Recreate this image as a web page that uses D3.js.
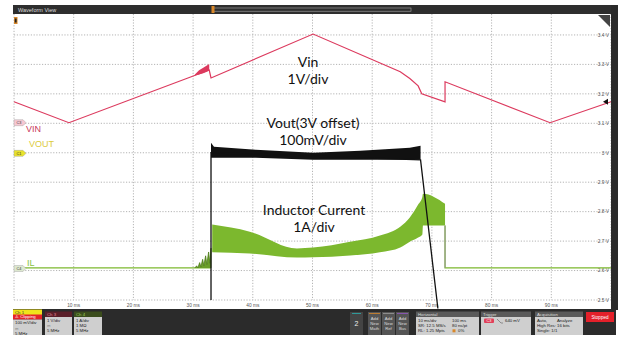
<!DOCTYPE html>
<html>
<head>
<meta charset="utf-8">
<script src="https://cdn.jsdelivr.net/npm/d3@7"></script>
<style>
  html, body { margin: 0; padding: 0; background: #fff; }
  svg { display: block; font-family: 'Liberation Sans', Arial, sans-serif; }
</style>
</head>
<body>
<svg id="scope" width="618" height="339"></svg>
<script>
// time axis (ms) and the screen axis as printed on the right (V, ch1 3V offset)
const timeTicks = [10, 20, 30, 40, 50, 60, 70, 80, 90];
const voltTicks = [3.4, 3.3, 3.2, 3.1, 3.0, 2.9, 2.8, 2.7, 2.6, 2.5];

// Vin trace (screen units)
const vinT = [0, 9.2, 32.7, 33.0, 50.1, 64.7, 66.3, 67.7, 68.3, 72.2, 72.2, 89.8, 100];
const vinV = [3.173, 3.102, 3.281, 3.254, 3.403, 3.275, 3.252, 3.227, 3.200, 3.173, 3.241, 3.102, 3.173];
const vinRipT = [30.3, 31.0, 31.7, 32.3, 32.7];
const vinRipTop = [3.266, 3.280, 3.289, 3.296, 3.301];
const vinRipBot = [3.262, 3.266, 3.270, 3.275, 3.279];

// Vout envelope (screen units)
const voutT = [33.0, 33.5, 40.5, 50.1, 58.0, 66.3, 68.1];
const voutTop = [3.034, 3.020, 3.010, 3.000, 3.007, 3.017, 3.024];
const voutBot = [2.983, 2.983, 2.983, 2.976, 2.976, 2.976, 2.976];
const voutEdgeT = [33.0, 33.0, 68.1, 71.0];
const voutEdgeV = [2.5, 3.0, 2.976, 2.471];

// inductor current (screen units)
const ilBaseT = [0, 33.0];
const ilBaseV = [2.609, 2.609];
const ilRipT = [30.3, 30.6, 30.8, 31.1, 31.3, 31.6, 31.8, 32.1, 32.3, 32.6, 32.8, 33.0, 33.0];
const ilRipV = [2.609, 2.616, 2.609, 2.627, 2.612, 2.638, 2.616, 2.650, 2.620, 2.663, 2.625, 2.676, 2.609];
const ilBandT = [33.2, 39.5, 47.4, 50.1, 56.3, 61.3, 64.7, 66.3, 67.7, 68.4, 68.5, 72.2];
const ilTop = [2.756, 2.732, 2.675, 2.678, 2.698, 2.719, 2.749, 2.780, 2.824, 2.850, 2.861, 2.827];
const ilBot = [2.662, 2.658, 2.644, 2.645, 2.651, 2.662, 2.678, 2.698, 2.712, 2.722, 2.753, 2.753];
const ilTailT = [72.2, 72.2, 100];
const ilTailV = [2.753, 2.609, 2.609];

const svg = d3.select('#scope');
const x = d3.scaleLinear().domain([0, 100]).range([14, 611]);
const y = d3.scaleLinear().domain([2.5, 3.5]).range([300, 5.5]);

const zip = (t, v) => t.map((d, i) => [d, v[i]]);
const band = (t, top, bot) => t.map((d, i) => ({ t: d, hi: top[i], lo: bot[i] }));
const line = d3.line().x((d) => x(d[0])).y((d) => y(d[1]));
const area = d3.area().x((d) => x(d.t)).y0((d) => y(d.lo)).y1((d) => y(d.hi));

// grid
const grid = svg.append('g').attr('class', 'grid');
grid.selectAll('.vg')
    .data(d3.range(0, 101, 10))
    .enter()
    .append('line')
    .attr('x1', (d) => x(d)).attr('x2', (d) => x(d))
    .attr('y1', 14).attr('y2', y(2.5))
    .attr('stroke', '#b4b4b4')
    .attr('stroke-dasharray', '1.2,1.6');
grid.selectAll('.hg')
    .data(voltTicks)
    .enter()
    .append('line')
    .attr('x1', x(0)).attr('x2', x(100))
    .attr('y1', (d) => y(d)).attr('y2', (d) => y(d))
    .attr('stroke', '#b4b4b4')
    .attr('stroke-dasharray', '1.2,1.6');

// right axis labels
svg.append('g')
    .selectAll('text')
    .data(voltTicks)
    .enter()
    .append('text')
    .attr('x', 609)
    .attr('y', (d) => y(d) + 1.8)
    .attr('text-anchor', 'end')
    .attr('font-size', 4.8)
    .attr('fill', '#555')
    .text((d) => `${d === 3 ? '3' : d.toFixed(1)} V`);

// time labels
svg.append('g')
    .selectAll('text')
    .data(timeTicks)
    .enter()
    .append('text')
    .attr('x', (d) => x(d))
    .attr('y', 306.5)
    .attr('text-anchor', 'middle')
    .attr('font-size', 4.8)
    .attr('fill', '#555')
    .text((d) => `${d} ms`);

// traces
const red = '#dc3a5e';
const green = '#7cb82e';

svg.append('path')
    .datum(band(ilBandT, ilTop, ilBot))
    .attr('d', area.curve(d3.curveMonotoneX))
    .attr('fill', green);
area.curve(d3.curveLinear);
svg.append('path')
    .datum(zip(ilBaseT, ilBaseV))
    .attr('d', line)
    .attr('fill', 'none')
    .attr('stroke', green)
    .attr('stroke-width', 1.3);
svg.append('path')
    .datum(zip(ilRipT, ilRipV))
    .attr('d', line)
    .attr('fill', '#6a9e28')
    .attr('stroke', '#4f7d1c')
    .attr('stroke-width', 0.8);
svg.append('path')
    .datum(zip(ilTailT, ilTailV))
    .attr('d', line)
    .attr('fill', 'none')
    .attr('stroke', green)
    .attr('stroke-width', 1.3);
svg.append('line')
    .attr('x1', x(72.2)).attr('x2', x(72.2))
    .attr('y1', y(2.753)).attr('y2', y(2.609))
    .attr('stroke', '#999').attr('stroke-width', 1);

svg.append('path')
    .datum(band(vinRipT, vinRipTop, vinRipBot))
    .attr('d', area)
    .attr('fill', red);
svg.append('path')
    .datum(zip(vinT, vinV))
    .attr('d', line)
    .attr('fill', 'none')
    .attr('stroke', red)
    .attr('stroke-width', 1.2);

svg.append('path')
    .datum(band(voutT, voutTop, voutBot))
    .attr('d', area)
    .attr('fill', '#111');
svg.append('path')
    .datum(zip(voutEdgeT, voutEdgeV))
    .attr('d', line)
    .attr('fill', 'none')
    .attr('stroke', '#111')
    .attr('stroke-width', 1.3);

// annotations
const notes = [
    ['Vin', 308, 67],
    ['1V/div', 308, 84],
    ['Vout(3V offset)', 313, 128],
    ['100mV/div', 313, 145],
    ['Inductor Current', 314, 215],
    ['1A/div', 314, 232],
];
svg.append('g')
    .selectAll('text')
    .data(notes)
    .enter()
    .append('text')
    .attr('x', (d) => d[1])
    .attr('y', (d) => d[2])
    .attr('text-anchor', 'middle')
    .attr('font-family', 'Lato, sans-serif')
    .attr('font-size', 14)
    .attr('fill', '#111')
    .text((d) => d[0]);

// channel badges & labels
const badges = [
    ['C3', 3.102, '#f6c8d2', '#333'],
    ['C1', 2.998, '#e8e22c', '#333'],
    ['C4', 2.607, '#dde8cf', '#333'],
];
const bg = svg.append('g').selectAll('g').data(badges).enter().append('g')
    .attr('transform', (d) => `translate(14,${y(d[1])})`);
bg.append('path')
    .attr('d', 'M0,-3 H9 L12,0 L9,3 H0 Z')
    .attr('fill', (d) => d[2])
    .attr('stroke', '#999')
    .attr('stroke-width', 0.4);
bg.append('text')
    .attr('x', 5).attr('y', 1.4)
    .attr('text-anchor', 'middle')
    .attr('font-size', 3.8)
    .attr('fill', (d) => d[3])
    .text((d) => d[0]);

const chLabels = [['VIN', 26, 132, '#c9385a'], ['VOUT', 29, 147, '#dccb3c'], ['IL', 27, 266, '#86c23e']];
svg.append('g').selectAll('text').data(chLabels).enter().append('text')
    .attr('x', (d) => d[1]).attr('y', (d) => d[2])
    .attr('font-size', 9)
    .attr('fill', (d) => d[3])
    .text((d) => d[0]);

// trigger level arrow
svg.append('path')
    .attr('d', `M603,${y(3.173)} l5,-3 v6 Z`)
    .attr('fill', '#111');

// header
svg.append('rect').attr('x', 13).attr('y', 5).attr('width', 598).attr('height', 9).attr('fill', '#2e2e2e');
svg.append('text').attr('x', 18).attr('y', 11.6).attr('font-size', 5.5).attr('fill', '#ddd').text('Waveform View');
svg.append('rect').attr('x', 213).attr('y', 8).attr('width', 198).attr('height', 3.2)
    .attr('fill', 'none').attr('stroke', '#aaa').attr('stroke-width', 0.6);
svg.append('rect').attr('x', 211.5).attr('y', 6).attr('width', 3).attr('height', 7).attr('fill', '#d9882a');
svg.append('rect').attr('x', 14).attr('y', 17).attr('width', 3.5).attr('height', 7).attr('fill', '#d9882a');
svg.append('rect').attr('x', 14.8).attr('y', 18.5).attr('width', 1.8).attr('height', 4).attr('fill', '#222');
svg.append('path').attr('d', 'M598,15 H610 V27 Z').attr('fill', '#444');
svg.append('rect').attr('x', 611).attr('y', 5).attr('width', 7).attr('height', 305).attr('fill', '#2a2a2a');

// bottom panel
const panel = svg.append('g');
panel.append('rect').attr('x', 13).attr('y', 309).attr('width', 603).attr('height', 26).attr('fill', '#2b2b2b');

function box(x0, w, head, headFill, headColor, lines, y0, bodyTop) {
    const g = panel.append('g');
    const top = bodyTop || y0 + 5.5;
    g.append('rect').attr('x', x0).attr('y', y0).attr('width', w).attr('height', 5.5).attr('fill', headFill);
    g.append('text').attr('x', x0 + 2).attr('y', y0 + 4.3).attr('font-size', 4.3).attr('fill', headColor).text(head);
    g.append('rect').attr('x', x0).attr('y', top).attr('width', w).attr('height', 335 - top).attr('fill', '#cfcfcf');
    lines.forEach((l, i) => {
        g.append('text').attr('x', x0 + 2).attr('y', top + 5 + i * 5.2)
            .attr('font-size', 4.3).attr('fill', '#222').text(l);
    });
    return g;
}
const ch1 = box(13, 29, 'Ch 1', '#efe31c', '#333', ['100 mV/div', '⎓', '5 MHz'], 309.5, 319.3);
ch1.append('rect').attr('x', 13).attr('y', 314.5).attr('width', 29).attr('height', 4.8).attr('fill', '#e42329');
ch1.append('text').attr('x', 15).attr('y', 318.4).attr('font-size', 4.3).attr('fill', '#fff').text('⚠ Clipping');
box(45, 27, 'Ch 3', '#5a1f29', '#e58b9b', ['1 V/div', '⎓', '5 MHz'], 311.5);
box(74, 28, 'Ch 4', '#3b4d1d', '#9ccc5a', ['1 A/div', '1 MΩ', '5 MHz'], 311.5);

panel.append('rect').attr('x', 350).attr('y', 312).attr('width', 13).attr('height', 23).attr('fill', '#444');
panel.append('rect').attr('x', 352).attr('y', 313).attr('width', 9).attr('height', 0.8).attr('fill', '#2ab0b0');
panel.append('text').attr('x', 356.5).attr('y', 326).attr('text-anchor', 'middle').attr('font-size', 7).attr('fill', '#eee').text('2');

[['Math', '#d6862a'], ['Ref', '#9a9a9a'], ['Bus', '#9455c4']].forEach((d, i) => {
    const x0 = 368 + i * 14;
    panel.append('rect').attr('x', x0).attr('y', 312).attr('width', 13).attr('height', 23).attr('fill', '#555');
    panel.append('rect').attr('x', x0 + 1).attr('y', 313).attr('width', 11).attr('height', 0.8).attr('fill', d[1]);
    ['Add', 'New', d[0]].forEach((t, j) => {
        panel.append('text').attr('x', x0 + 6.5).attr('y', 320 + j * 5).attr('text-anchor', 'middle')
            .attr('font-size', 4.2).attr('fill', '#ddd').text(t);
    });
});

const hz = box(416, 63, 'Horizontal', '#5a5a5a', '#ddd', ['10 ms/div', 'SR: 12.5 MS/s', 'RL: 1.25 Mpts'], 311.5);
['100 ms', '80 ns/pt', '0%'].forEach((t, i) => {
    hz.append('text').attr('x', i === 2 ? 458 : 452).attr('y', 322 + i * 5.2).attr('font-size', 4.3).attr('fill', '#222').text(t);
});
hz.append('rect').attr('x', 452.5).attr('y', 329.3).attr('width', 3).attr('height', 3).attr('fill', '#d9882a');

const tr = box(481, 50, 'Trigger', '#5a5a5a', '#ddd', [], 311.5);
tr.append('rect').attr('x', 484).attr('y', 318.5).attr('width', 10).attr('height', 4.5).attr('rx', 1).attr('fill', '#e0405a');
tr.append('text').attr('x', 489).attr('y', 322.2).attr('text-anchor', 'middle').attr('font-size', 3.8).attr('fill', '#fff').text('C3');
tr.append('path').attr('d', 'M497,319 L501,323 H503').attr('fill', 'none').attr('stroke', '#444').attr('stroke-width', 0.5);
tr.append('text').attr('x', 505).attr('y', 322.3).attr('font-size', 4.3).attr('fill', '#222').text('640 mV');

const acq = box(535, 48, 'Acquisition', '#5a5a5a', '#ddd', ['Auto,', 'High Res: 16 bits', 'Single: 1/1'], 311.5);
acq.append('text').attr('x', 557).attr('y', 322).attr('font-size', 4.3).attr('fill', '#222').text('Analyze');

panel.append('rect').attr('x', 586).attr('y', 312).attr('width', 28).attr('height', 10).attr('fill', '#e4202a');
panel.append('text').attr('x', 600).attr('y', 318.6).attr('text-anchor', 'middle').attr('font-size', 4.6).attr('fill', '#fff').text('Stopped');
</script>
</body>
</html>
